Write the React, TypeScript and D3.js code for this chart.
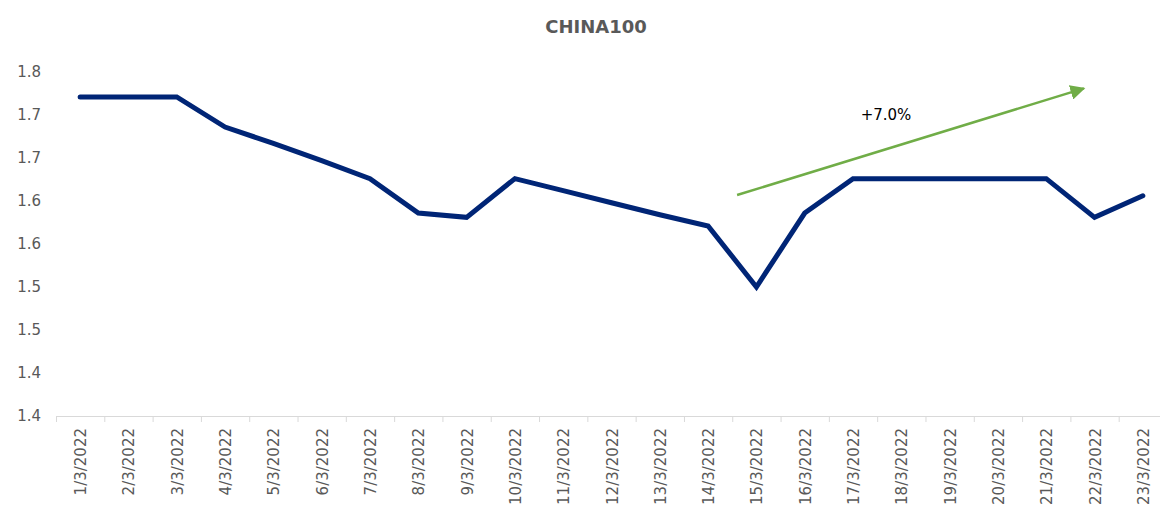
import * as d3 from 'd3'
import React from 'react'

const dates = [
  '1/3/2022', '2/3/2022', '3/3/2022', '4/3/2022', '5/3/2022', '6/3/2022',
  '7/3/2022', '8/3/2022', '9/3/2022', '10/3/2022', '11/3/2022', '12/3/2022',
  '13/3/2022', '14/3/2022', '15/3/2022', '16/3/2022', '17/3/2022', '18/3/2022',
  '19/3/2022', '20/3/2022', '21/3/2022', '22/3/2022', '23/3/2022',
]
const values = [
  1.771, 1.771, 1.771, 1.736, 1.717, 1.697, 1.676, 1.636, 1.631, 1.676,
  1.662, 1.648, 1.634, 1.621, 1.550, 1.636, 1.676, 1.676, 1.676, 1.676,
  1.676, 1.631, 1.656,
]
const yTicks = [1.4, 1.45, 1.5, 1.55, 1.6, 1.65, 1.7, 1.75, 1.8]
const yTickLabels = ['1.4', '1.4', '1.5', '1.5', '1.6', '1.6', '1.7', '1.7', '1.8']
// trend arrow: from between 14/3 and 15/3 up to just before 22/3
const arrowFrom = { date: '15/3/2022', offset: -0.4, value: 1.657 }
const arrowTo = { date: '22/3/2022', offset: -0.22, value: 1.781 }
const arrowLabel = '+7.0%'

const W = 1160
const H = 516
const font = '"DejaVu Sans", sans-serif'

const App = () => {
  const x = d3.scaleBand().domain(dates).range([56, 1167])
  const y = d3.scaleLinear().domain([1.4, 1.8]).range([416, 72])
  const cx = (d: string) => (x(d) as number) + x.bandwidth() / 2

  const line = d3.line<number>()
    .x((_, i) => cx(dates[i]))
    .y((v) => y(v))

  const ax1 = cx(arrowFrom.date) + arrowFrom.offset * x.bandwidth()
  const ay1 = y(arrowFrom.value)
  const ax2 = cx(arrowTo.date) + arrowTo.offset * x.bandwidth()
  const ay2 = y(arrowTo.value)

  const bounds = dates.map((d) => x(d) as number).concat([x.range()[1]])

  return (
    <svg width={W} height={H} style={{ position: 'absolute', left: 0, top: 0, background: '#fff' }}>
      <defs>
        <marker id="arrowhead" viewBox="0 0 10 10" refX="9" refY="5" markerWidth="6" markerHeight="6" orient="auto" markerUnits="strokeWidth">
          <path d="M0,0 L10,5 L0,10 z" fill="#70ad47" />
        </marker>
      </defs>
      <text x={596} y={33} textAnchor="middle" fontFamily={font} fontWeight="bold" fontSize={18} fill="#595959">
        CHINA100
      </text>
      {yTicks.map((t, i) => (
        <text key={t} x={41} y={y(t) + 5} textAnchor="end" fontFamily={font} fontSize={15} fill="#595959">
          {yTickLabels[i]}
        </text>
      ))}
      <line x1={56} x2={1167} y1={416.5} y2={416.5} stroke="#d9d9d9" strokeWidth={1} />
      {bounds.map((b, i) => (
        <line key={i} x1={b + 0.5} x2={b + 0.5} y1={416} y2={422} stroke="#d9d9d9" strokeWidth={1} />
      ))}
      {dates.map((d) => (
        <text
          key={d}
          transform={`translate(${cx(d) + 6},428) rotate(-90)`}
          textAnchor="end"
          fontFamily={font}
          fontSize={15}
          fill="#595959"
        >
          {d}
        </text>
      ))}
      <path d={line(values) || ''} fill="none" stroke="#002576" strokeWidth={5} strokeLinejoin="miter" strokeLinecap="round" />
      <line x1={ax1} y1={ay1} x2={ax2} y2={ay2} stroke="#70ad47" strokeWidth={2.5} markerEnd="url(#arrowhead)" />
      <text x={886} y={120} textAnchor="middle" fontFamily={font} fontSize={15} fill="#000">
        {arrowLabel}
      </text>
    </svg>
  )
}

export default App
